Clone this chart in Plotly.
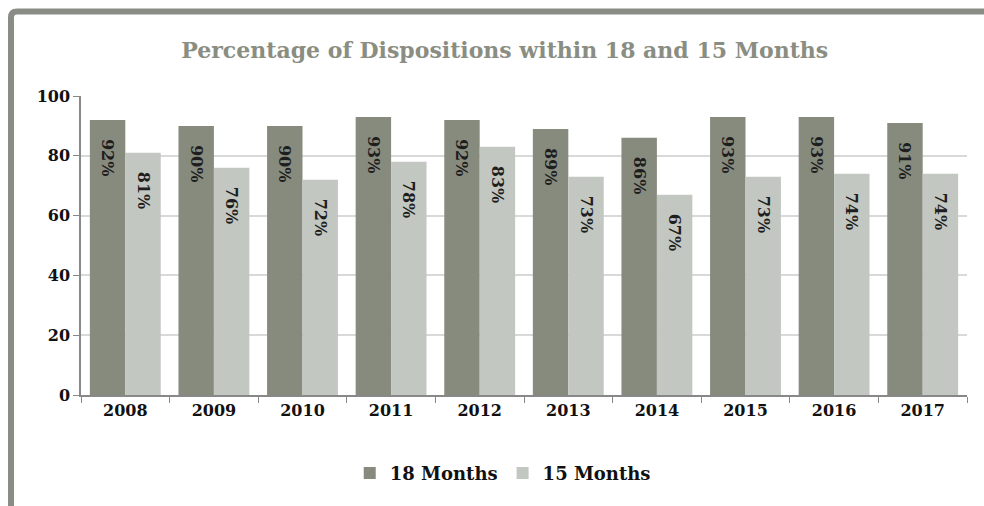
import plotly.graph_objects as go

years = ["2008", "2009", "2010", "2011", "2012", "2013", "2014", "2015", "2016", "2017"]
months18 = [92, 90, 90, 93, 92, 89, 86, 93, 93, 91]
months15 = [81, 76, 72, 78, 83, 73, 67, 73, 74, 74]
series_names = ["18 Months", "15 Months"]
y_ticks = [0, 20, 40, 60, 80, 100]

FONT = "DejaVu Serif"
DARK = "#878b7e"
LIGHT = "#c3c7c1"

fig = go.Figure()
for name, vals, col in [(series_names[0], months18, DARK), (series_names[1], months15, LIGHT)]:
    fig.add_trace(go.Bar(
        x=years, y=vals, name=name, marker=dict(color=col, line=dict(width=0)),
        text=[f"<b>\u2003{v}%</b>" for v in vals], textposition="inside",
        insidetextanchor="end", textangle=90, constraintext="none",
        textfont=dict(family=FONT, size=16, color="#1e1e1e"),
    ))

fig.update_layout(
    width=984, height=506,
    margin=dict(l=81, r=17, t=96, b=111),
    paper_bgcolor="white", plot_bgcolor="white",
    barmode="group", bargap=0.2, bargroupgap=0,
    title=dict(text="<b>Percentage of Dispositions within 18 and 15 Months</b>",
               font=dict(family=FONT, size=22, color="#8a8d82"),
               x=0.513, xref="container", xanchor="center", y=0.9, yanchor="middle"),
    legend=dict(orientation="h", x=0.476, xanchor="center", y=-0.2, yanchor="top",
                font=dict(family=FONT, size=18, color="#111", weight="bold"),
                itemsizing="constant", traceorder="normal", itemwidth=30),
    showlegend=True,
)
fig.update_xaxes(
    type="category", tickson="boundaries", ticks="outside", ticklen=6, tickcolor="#888",
    showline=True, linecolor="#888", linewidth=1.5,
    tickfont=dict(family=FONT, size=16, color="#111", weight="bold"),
)
fig.update_yaxes(
    range=[0, 100], tickvals=y_ticks, ticks="outside", ticklen=6, tickcolor="#888",
    showline=True, linecolor="#888", linewidth=1.5,
    showgrid=True, gridcolor="#d9d9d9", gridwidth=1.5, zeroline=False,
    tickfont=dict(family=FONT, size=16, color="#111", weight="bold"),
)

# outer frame (top and left borders with rounded corner)
xl, yt = -0.079, 1.2826
rx, ry = 6 / 886, 6 / 299
fig.add_shape(type="path", xref="paper", yref="paper",
              path=f"M {xl},-0.45 L {xl},{yt - ry} Q {xl},{yt} {xl + rx},{yt} L 1.025,{yt}",
              line=dict(color="#8a8d85", width=6))

fig.write_html("out.html")
